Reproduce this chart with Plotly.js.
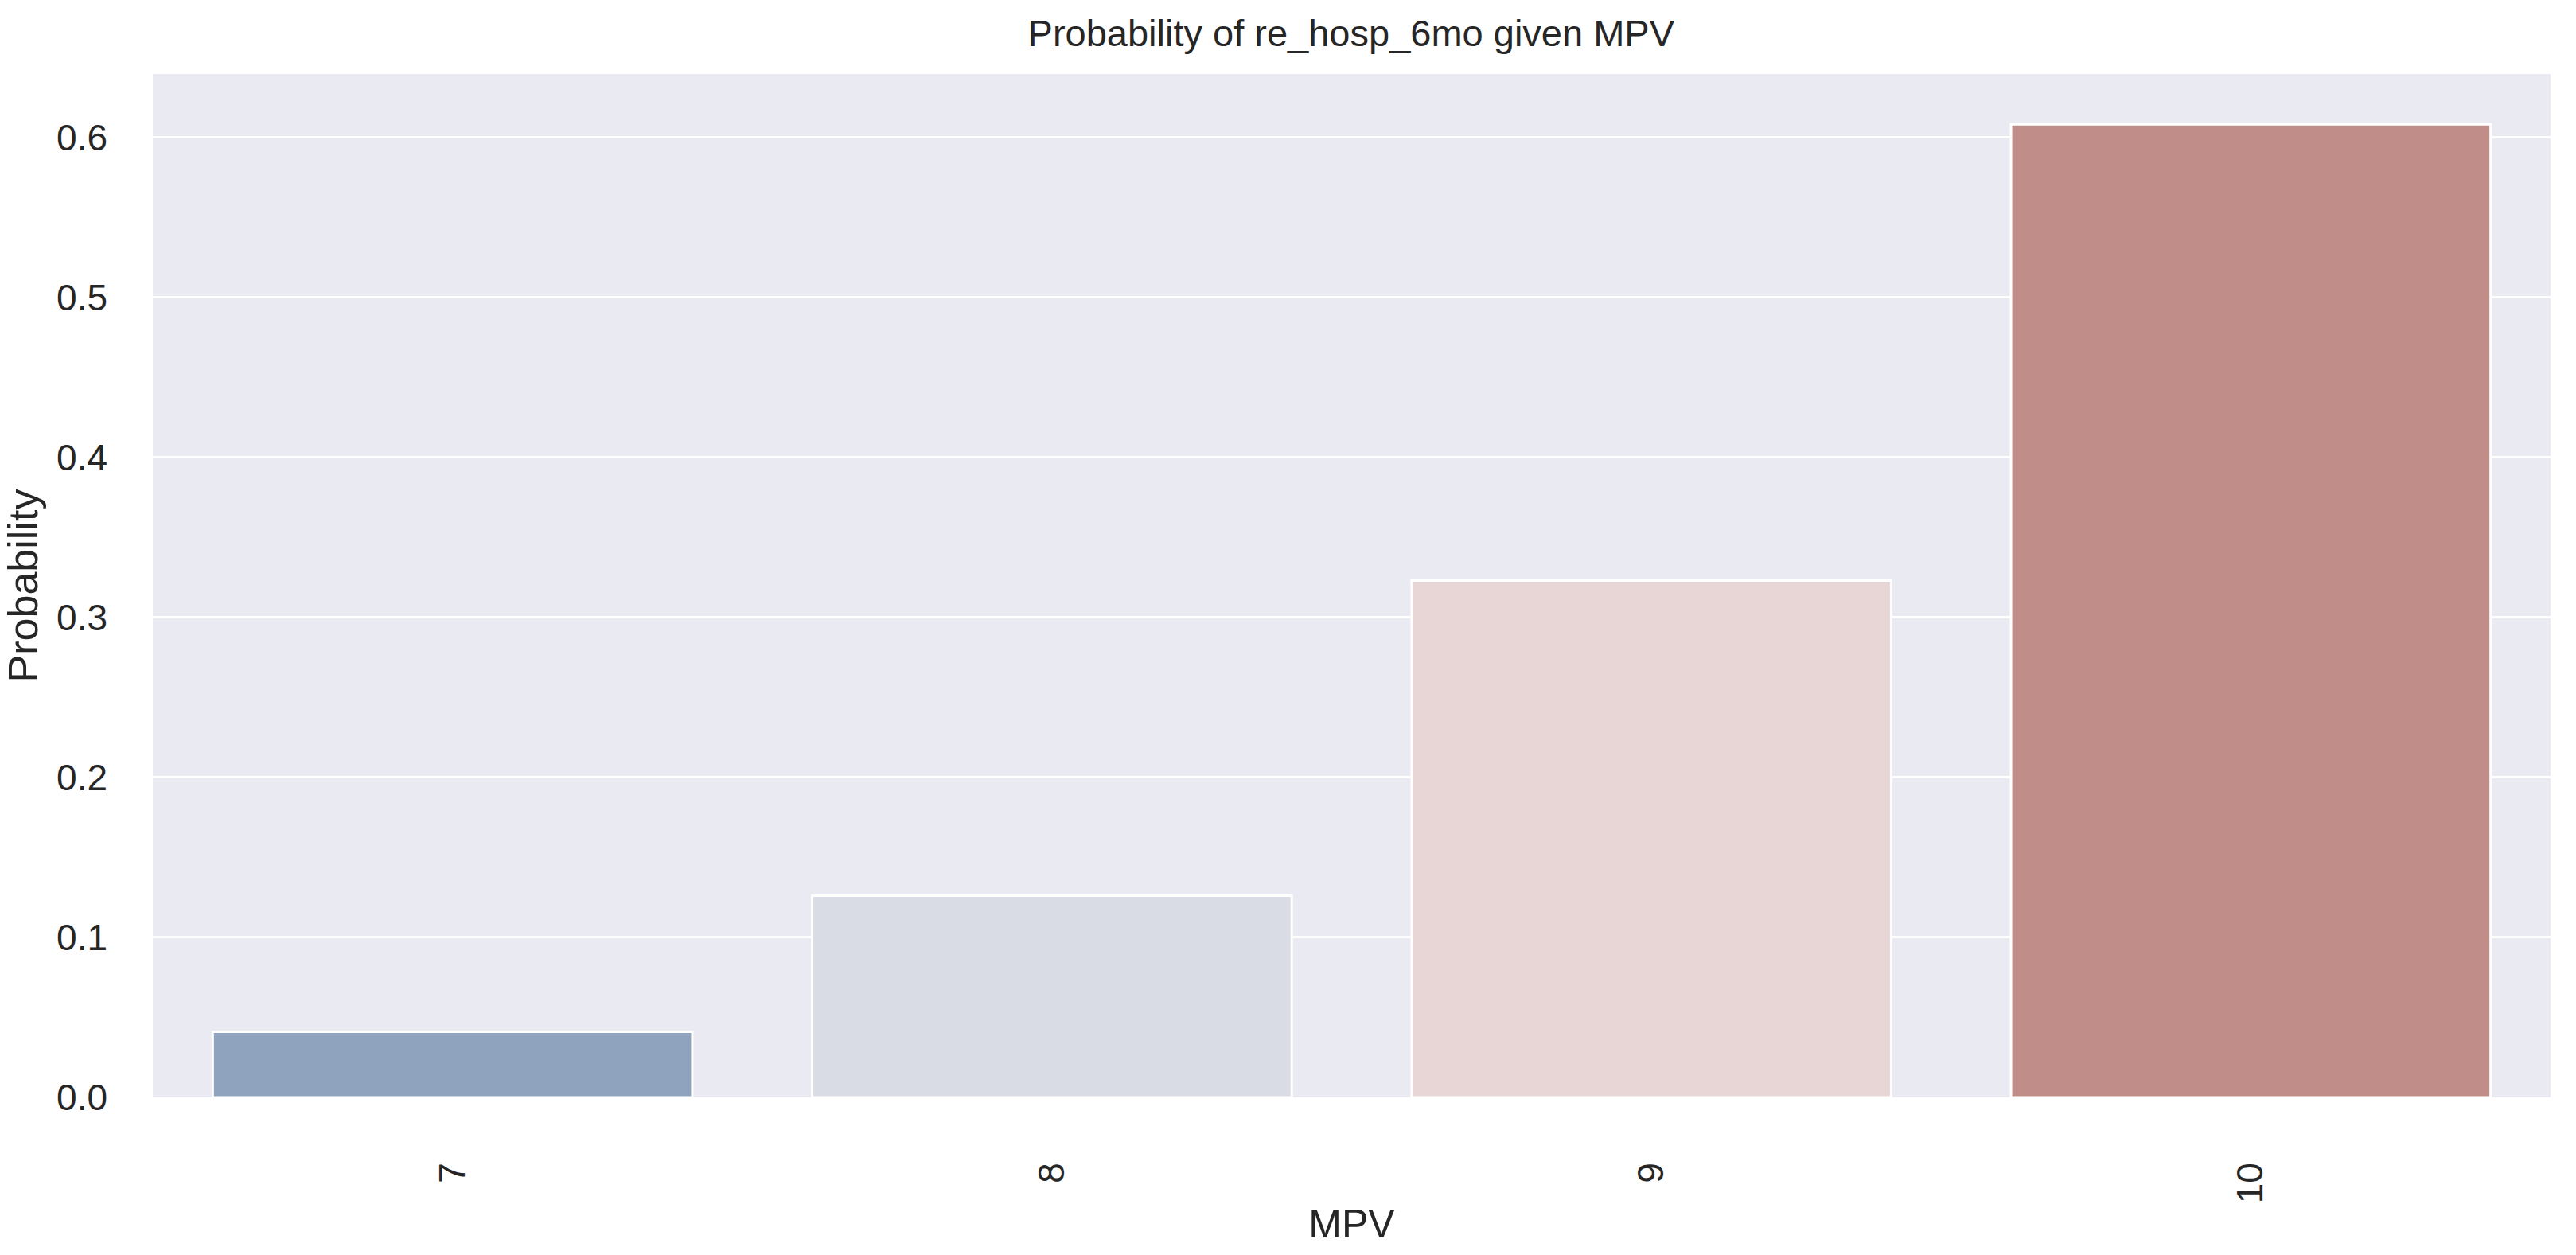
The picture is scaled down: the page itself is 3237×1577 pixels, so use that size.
<!DOCTYPE html>
<html>
<head>
<meta charset="utf-8">
<script src="https://cdn.plot.ly/plotly-3.0.1.min.js"></script>
<style>html,body{margin:0;padding:0;background:#fff;}#chart{width:3237px;height:1577px;}</style>
</head>
<body>
<div id="chart"></div>
<script>
const categories = ["7", "8", "9", "10"];
const probabilities = [0.041, 0.126, 0.323, 0.608];
const barColors = ["#8fa2be", "#d9dce4", "#e8d6d6", "#c18d89"];
const yTickValues = [0.0, 0.1, 0.2, 0.3, 0.4, 0.5, 0.6];
const yTickLabels = ["0.0", "0.1", "0.2", "0.3", "0.4", "0.5", "0.6"];

const FONT = "Liberation Sans, Arial, sans-serif";
const TXT = "#262626";

const trace = {
  type: "bar",
  x: categories,
  y: probabilities,
  width: 0.8,
  marker: { color: barColors, line: { color: "#ffffff", width: 3 } },
  hoverinfo: "x+y"
};

const layout = {
  width: 3237,
  height: 1577,
  margin: { l: 192, r: 32, t: 93, b: 198, pad: 0 },
  paper_bgcolor: "#ffffff",
  plot_bgcolor: "#eaeaf2",
  showlegend: false,
  bargap: 0.2,
  title: {
    text: "Probability of re_hosp_6mo given MPV",
    font: { family: FONT, size: 47, color: TXT },
    x: 0.5245, xanchor: "center",
    y: 1 - 42 / 1577, yref: "container", yanchor: "middle"
  },
  xaxis: {
    type: "category",
    categoryorder: "array",
    categoryarray: categories,
    range: [-0.5, 3.5],
    showgrid: false,
    zeroline: false,
    showline: false,
    ticks: "",
    tickangle: -90,
    ticklabelstandoff: 72,
    tickfont: { family: FONT, size: 46, color: TXT },
    title: { text: "MPV", font: { family: FONT, size: 50, color: TXT }, standoff: 8 }
  },
  yaxis: {
    range: [0, 0.6395],
    tickvals: yTickValues,
    ticktext: yTickLabels,
    showgrid: true,
    gridcolor: "#ffffff",
    gridwidth: 3,
    zeroline: false,
    showline: false,
    ticks: "",
    ticklabelstandoff: 56,
    tickfont: { family: FONT, size: 46, color: TXT },
    title: { text: "Probability", font: { family: FONT, size: 52, color: TXT }, standoff: 12 }
  }
};

Plotly.newPlot("chart", [trace], layout, { displayModeBar: false, staticPlot: true });
</script>
</body>
</html>
